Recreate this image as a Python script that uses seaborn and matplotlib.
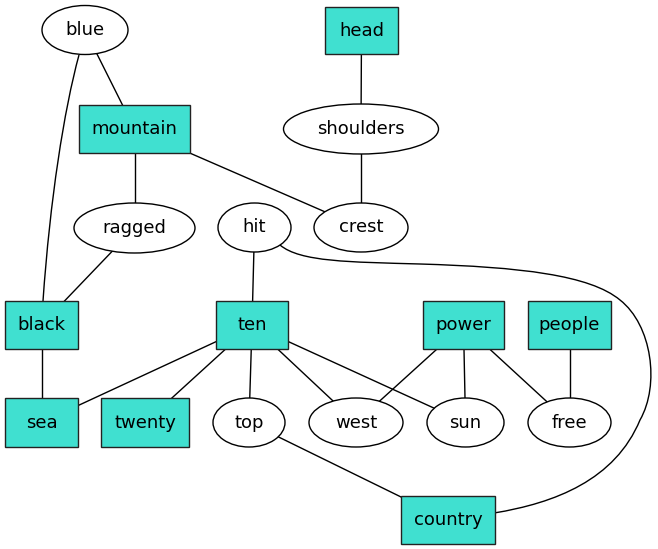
import numpy as np
import matplotlib
matplotlib.use("Agg")
import matplotlib.pyplot as plt
import seaborn as sns
from matplotlib.patches import Ellipse, Rectangle, PathPatch
from matplotlib.path import Path

sns.set_theme(style="white")
plt.rcParams['font.family'] = ['DejaVu Sans']

# node layout (pixel coordinates, y grows downwards)
names = ['blue', 'head', 'mountain', 'shoulders', 'ragged', 'hit', 'crest',
         'black', 'ten', 'power', 'people', 'sea', 'twenty', 'top', 'west',
         'sun', 'free', 'country']
node_x = [85, 361.5, 134.5, 361, 134.5, 254.5, 361, 41.5, 252, 463.5, 569.5,
          41.5, 145, 249, 356, 465.5, 569.5, 448]
node_y = [30, 30.5, 129, 129, 228, 227.5, 227.5, 325, 325, 325, 325,
          422.5, 422.5, 422.5, 422.5, 422.5, 422.5, 520]
node_w = [86, 73, 111, 155, 121, 73, 94, 73, 72, 81, 83, 73, 88, 72, 94, 77, 83, 94]
node_h = [49, 47, 48, 50, 50, 49, 49, 48, 48, 48, 48, 49, 49, 49, 49, 49, 49, 48]
shapes = ['ellipse', 'box', 'box', 'ellipse', 'ellipse', 'ellipse', 'ellipse',
          'box', 'box', 'box', 'box', 'box', 'box', 'ellipse', 'ellipse',
          'ellipse', 'ellipse', 'box']

edges = [('blue', 'mountain'), ('head', 'shoulders'), ('mountain', 'ragged'),
         ('mountain', 'crest'), ('shoulders', 'crest'), ('ragged', 'black'),
         ('hit', 'ten'), ('black', 'sea'), ('ten', 'sea'), ('ten', 'twenty'),
         ('ten', 'top'), ('ten', 'west'), ('ten', 'sun'), ('power', 'west'),
         ('power', 'sun'), ('power', 'free'), ('people', 'free'),
         ('top', 'country')]

# spline edges as cubic bezier control points
curve_blue_black = [(79, 55), (64, 110), (50, 200), (43, 301)]
curve_hit_country = [(280, 245), (300, 262), (350, 262), (420, 264),
                     (520, 267), (590, 275), (620, 300),
                     (652, 325), (660, 385), (640, 420),
                     (615, 480), (555, 503), (494, 513)]

fill_box = '#40E0D0'

pos = {n: (x, y) for n, x, y in zip(names, node_x, node_y)}

fig = plt.figure(figsize=(6.58, 5.49), dpi=100)
ax = fig.add_axes([0, 0, 1, 1])
ax.set_xlim(0, 658)
ax.set_ylim(549, 0)
ax.axis('off')

for a, b in edges:
    (x0, y0), (x1, y1) = pos[a], pos[b]
    ax.plot([x0, x1], [y0, y1], color='black', lw=1.0, zorder=1)

for pts in [curve_blue_black, curve_hit_country]:
    codes = [Path.MOVETO] + [Path.CURVE4] * (len(pts) - 1)
    ax.add_patch(PathPatch(Path(pts, codes), facecolor='none',
                           edgecolor='black', lw=1.0, zorder=1))

for n, x, y, w, h, s in zip(names, node_x, node_y, node_w, node_h, shapes):
    if s == 'box':
        patch = Rectangle((x - w / 2, y - h / 2), w, h, facecolor=fill_box,
                          edgecolor='#222222', lw=1.0, zorder=2)
    else:
        patch = Ellipse((x, y), w, h, facecolor='white',
                        edgecolor='black', lw=1.0, zorder=2)
    ax.add_patch(patch)
    ax.text(x, y, n, ha='center', va='center', fontsize=13,
            color='black', zorder=3)

plt.savefig('out.png', dpi=100)
plt.close()
